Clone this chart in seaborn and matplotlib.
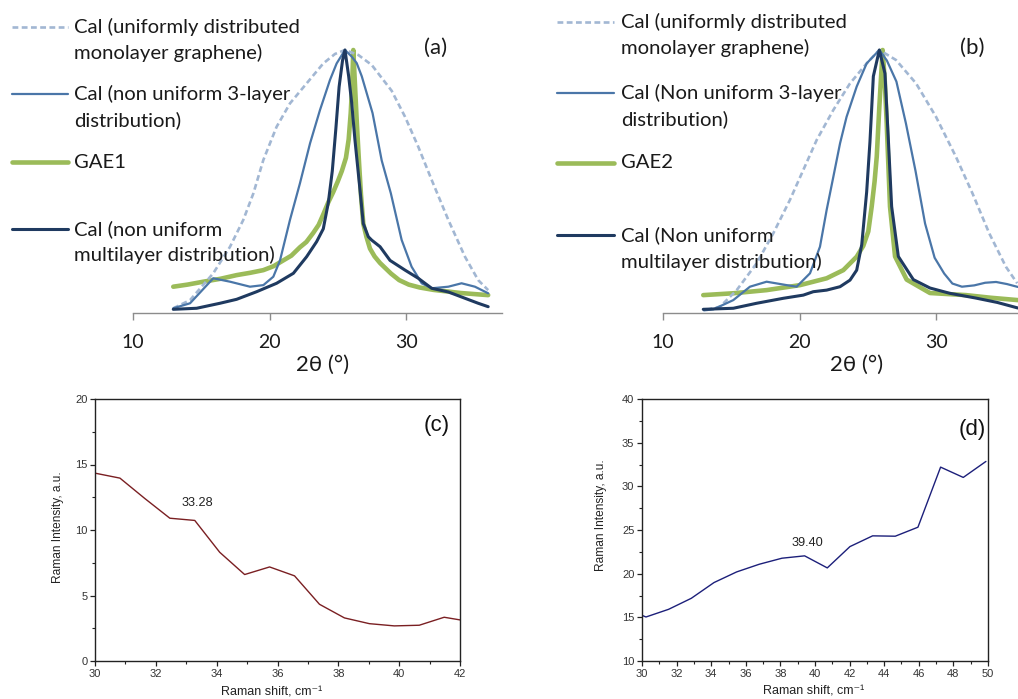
import numpy as np
import pandas as pd
import matplotlib
matplotlib.use("Agg")
import matplotlib.pyplot as plt
from matplotlib.lines import Line2D
from matplotlib.ticker import MultipleLocator
import seaborn as sns

# ---------------- data ----------------
# panel (a): XRD, normalised intensity vs 2theta
a_mono_x = [12.95, 14.18, 15.88, 17.11, 18.08, 18.82, 19.55, 20.52, 21.50, 22.72, 23.94, 24.80, 25.53,
            26.51, 27.49, 28.95, 29.93, 30.90, 31.88, 33.10, 34.32, 35.29, 36.02]
a_mono_y = [0.018, 0.049, 0.151, 0.252, 0.354, 0.455, 0.582, 0.708, 0.797, 0.873, 0.949, 0.985, 1.0,
            0.981, 0.943, 0.845, 0.746, 0.632, 0.506, 0.354, 0.214, 0.125, 0.087]

a_tri_x = [12.95, 14.18, 15.88, 17.11, 18.57, 19.55, 20.28, 20.77, 21.50, 22.23, 22.97, 23.70, 24.43,
           24.92, 25.53, 26.02, 26.39, 26.76, 27.55, 28.22, 28.89, 29.68, 30.41, 31.15, 31.88, 33.10,
           34.07, 35.05, 36.02]
a_tri_y = [0.018, 0.037, 0.132, 0.119, 0.100, 0.106, 0.138, 0.200, 0.354, 0.493, 0.645, 0.772, 0.886,
           0.949, 1.0, 0.975, 0.950, 0.900, 0.760, 0.580, 0.455, 0.278, 0.176, 0.113, 0.094, 0.100,
           0.113, 0.100, 0.075]

a_multi_x = [12.95, 14.66, 16.37, 17.59, 19.06, 20.52, 21.75, 22.72, 23.45, 23.94, 24.31, 24.60, 24.86,
             25.10, 25.35, 25.53, 25.80, 26.02, 26.26, 26.63, 26.87, 27.24, 27.49, 28.10, 28.83, 29.93,
             30.90, 31.88, 33.10, 34.32, 35.29, 36.02]
a_multi_y = [0.014, 0.018, 0.037, 0.052, 0.081, 0.113, 0.151, 0.214, 0.271, 0.320, 0.420, 0.540, 0.700,
             0.860, 0.960, 1.0, 0.900, 0.800, 0.658, 0.468, 0.340, 0.290, 0.277, 0.252, 0.200, 0.163,
             0.132, 0.094, 0.080, 0.056, 0.037, 0.024]

a_gae_x = [12.95, 14.0, 15.15, 16.4, 17.59, 18.6, 19.55, 20.3, 21.01, 21.6, 22.23, 22.7, 23.21, 23.6,
           23.94, 24.3, 24.67, 25.0, 25.3, 25.6, 25.8, 25.95, 26.05, 26.14, 26.25, 26.4, 26.55, 26.7,
           26.87, 27.1, 27.36, 27.7, 28.1, 28.5, 28.9, 29.5, 30.2, 31.0, 32.0, 33.0, 34.0, 35.0, 36.02]
a_gae_y = [0.100, 0.108, 0.119, 0.130, 0.144, 0.153, 0.163, 0.178, 0.200, 0.218, 0.250, 0.270, 0.305,
           0.335, 0.375, 0.420, 0.460, 0.500, 0.540, 0.590, 0.660, 0.760, 0.860, 1.0, 0.880, 0.720,
           0.580, 0.450, 0.340, 0.290, 0.245, 0.215, 0.190, 0.170, 0.150, 0.125, 0.108, 0.097, 0.088,
           0.082, 0.076, 0.072, 0.068]

# panel (b)
b_mono_x = [13.2, 14.18, 15.40, 16.86, 18.08, 19.30, 20.28, 21.26, 22.48, 23.70, 24.92, 25.85, 27.07,
            28.54, 30.00, 31.46, 32.68, 33.90, 35.12, 35.95]
b_mono_y = [0.012, 0.024, 0.087, 0.189, 0.303, 0.430, 0.544, 0.658, 0.772, 0.873, 0.949, 1.0, 0.962,
            0.873, 0.746, 0.594, 0.454, 0.303, 0.176, 0.113]

b_tri_x = [13.0, 13.69, 15.15, 16.37, 17.59, 19.06, 19.79, 20.77, 21.50, 21.99, 22.48, 22.97, 23.45,
           24.19, 24.92, 25.85, 26.40, 27.10, 27.80, 28.50, 29.20, 29.90, 30.60, 31.20, 31.90, 32.80,
           33.60, 34.40, 35.20, 36.0]
b_tri_y = [0.010, 0.014, 0.049, 0.100, 0.119, 0.106, 0.100, 0.151, 0.252, 0.392, 0.518, 0.645, 0.746,
           0.861, 0.949, 1.0, 0.960, 0.880, 0.720, 0.540, 0.340, 0.210, 0.150, 0.112, 0.100, 0.105,
           0.115, 0.118, 0.110, 0.099]

b_multi_x = [12.95, 15.15, 16.86, 18.82, 20.28, 21.01, 21.99, 22.97, 23.70, 24.19, 24.56, 24.92, 25.16,
             25.41, 25.85, 26.26, 26.51, 26.75, 27.24, 28.34, 29.56, 31.0, 32.9, 34.5, 36.0]
b_multi_y = [0.014, 0.018, 0.037, 0.056, 0.068, 0.081, 0.087, 0.100, 0.125, 0.163, 0.260, 0.460, 0.650,
             0.900, 1.0, 0.911, 0.658, 0.405, 0.215, 0.127, 0.095, 0.075, 0.057, 0.040, 0.019]

b_gae_x = [12.95, 15.15, 17.59, 20.04, 21.99, 23.21, 24.19, 24.67, 25.04, 25.29, 25.50, 25.66, 25.85,
           26.09, 26.25, 26.39, 26.63, 27.0, 27.85, 29.56, 32.2, 34.0, 36.0]
b_gae_y = [0.068, 0.075, 0.087, 0.106, 0.132, 0.163, 0.214, 0.255, 0.310, 0.405, 0.500, 0.595, 0.785,
           1.0, 0.880, 0.720, 0.405, 0.215, 0.127, 0.076, 0.068, 0.058, 0.049]

# panel (c): Raman
c_x = [30.00, 30.82, 31.64, 32.46, 33.28, 34.10, 34.92, 35.74, 36.56, 37.38, 38.20, 39.02, 39.84,
       40.66, 41.48, 42.30]
c_y = [14.34, 13.96, 12.40, 10.90, 10.73, 8.30, 6.60, 7.18, 6.50, 4.33, 3.29, 2.85, 2.68, 2.73, 3.34, 3.02]

# panel (d): Raman
d_x = [28.92, 30.23, 31.54, 32.85, 34.16, 35.47, 36.78, 38.09, 39.40, 40.71, 42.02, 43.33, 44.64,
       45.95, 47.26, 48.57, 49.88]
d_y = [16.10, 15.04, 15.92, 17.18, 18.98, 20.20, 21.08, 21.77, 22.04, 20.66, 23.10, 24.33, 24.29,
       25.32, 32.20, 31.02, 32.85]

legend_a = [["Cal (uniformly distributed", "monolayer graphene)"],
            ["Cal (non uniform 3-layer", "distribution)"],
            ["GAE1"],
            ["Cal (non uniform", "multilayer distribution)"]]
legend_b = [["Cal (uniformly distributed", "monolayer graphene)"],
            ["Cal (Non uniform 3-layer", "distribution)"],
            ["GAE2"],
            ["Cal (Non uniform", "multilayer distribution)"]]
top_ticks = [10, 20, 30]

# ---------------- style ----------------
sns.set_theme(style="white")
plt.rcParams['font.family'] = ['Lato', 'DejaVu Sans']

C_MONO = '#A2B7D3'
C_TRI = '#4A76A8'
C_MULTI = '#1F3A60'
C_GAE = '#9BBB59'
TXT = '#1a1a1a'
DASH = (0, (2.2, 1.3))

W, H = 1018, 699
fig = plt.figure(figsize=(W / 100, H / 100), dpi=100)


def fx(px):
    return px / W


def fy(py):
    return 1 - py / H


def top_panel(left_px, xmax, series, legend, leg_x, leg_rows, panel_lbl, lbl_pos, xlabel_x):
    width = (xmax - 10) * 13.65
    ax = fig.add_axes([fx(left_px), fy(313), width / W, 263 * 1.05 / H])
    mono, tri, gae, multi = series
    sns.lineplot(x=gae[0], y=gae[1], ax=ax, color=C_GAE, lw=3.3, sort=False, estimator=None, zorder=2)
    sns.lineplot(x=mono[0], y=mono[1], ax=ax, color=C_MONO, lw=1.9, linestyle=DASH,
                 sort=False, estimator=None, zorder=3)
    sns.lineplot(x=tri[0], y=tri[1], ax=ax, color=C_TRI, lw=1.6, sort=False, estimator=None, zorder=4)
    sns.lineplot(x=multi[0], y=multi[1], ax=ax, color=C_MULTI, lw=2.2, sort=False, estimator=None, zorder=5)
    for ln in ax.get_lines():
        ln.set_clip_on(False)
    ax.set_xlim(10, xmax)
    ax.set_ylim(0, 1.05)
    for s in ['top', 'right', 'left']:
        ax.spines[s].set_visible(False)
    ax.spines['bottom'].set_color('#8c8c8c')
    ax.spines['bottom'].set_linewidth(1.0)
    ax.set_yticks([])
    ax.set_xticks(top_ticks)
    ax.tick_params(axis='x', direction='out', length=5, width=1, color='#8c8c8c', pad=10,
                   labelsize=14, labelcolor=TXT, bottom=True)
    ax.set_xlabel('2θ (°)', fontsize=16, color=TXT)
    ax.xaxis.label.set_va('center')
    ax.xaxis.set_label_coords(xlabel_x, -52 / (263 * 1.05))
    ax.set_ylabel('')
    ax.patch.set_alpha(0)

    styles = [dict(color=C_MONO, lw=1.9, linestyle=DASH),
              dict(color=C_TRI, lw=1.6),
              dict(color=C_GAE, lw=3.3),
              dict(color=C_MULTI, lw=2.2)]
    h0, h1, tx = leg_x
    for st, lines, rows in zip(styles, legend, leg_rows):
        fig.add_artist(Line2D([fx(h0), fx(h1)], [fy(rows[0]), fy(rows[0])],
                              transform=fig.transFigure, **st))
        for line, r in zip(lines, rows):
            fig.text(fx(tx), fy(r), line, fontsize=14.6, color=TXT, ha='left', va='center')
    fig.text(fx(lbl_pos[0]), fy(lbl_pos[1]), panel_lbl, fontsize=16, color=TXT, ha='center', va='center')
    return ax


top_panel(133, 37.0,
          [(a_mono_x, a_mono_y), (a_tri_x, a_tri_y), (a_gae_x, a_gae_y), (a_multi_x, a_multi_y)],
          legend_a, (12, 68, 74), [(27, 53), (94, 120), (162,), (229, 255)],
          '(a)', (436, 48), 0.513)
top_panel(663, 36.0,
          [(b_mono_x, b_mono_y), (b_tri_x, b_tri_y), (b_gae_x, b_gae_y), (b_multi_x, b_multi_y)],
          legend_b, (557, 614, 621), [(22, 48), (93, 119), (163,), (235, 262)],
          '(b)', (972, 48), 0.544)

# ---------------- bottom panels ----------------
BF = ['Liberation Sans', 'DejaVu Sans']


def raman_panel(left_px, right_px, x, y, xlim, ylim, xmaj, ymaj, color, ann, ann_xy, lbl, lbl_px,
                ylab_pos, xlab_pos):
    ax = fig.add_axes([fx(left_px), fy(661), (right_px - left_px) / W, 262 / H])
    sns.lineplot(x=x, y=y, ax=ax, color=color, lw=1.0, sort=False, estimator=None)
    ax.set_xlim(*xlim)
    ax.set_ylim(*ylim)
    ax.xaxis.set_major_locator(MultipleLocator(xmaj))
    ax.xaxis.set_minor_locator(MultipleLocator(xmaj / 2))
    ax.yaxis.set_major_locator(MultipleLocator(ymaj))
    ax.yaxis.set_minor_locator(MultipleLocator(ymaj / 2))
    for s in ax.spines.values():
        s.set_visible(True)
        s.set_color('#222222')
        s.set_linewidth(1.0)
    ax.tick_params(which='major', direction='out', length=3.5, width=0.9, color='#222222',
                   labelsize=8, labelcolor='#333333', pad=2, bottom=True, left=True)
    ax.tick_params(which='minor', direction='out', length=2, width=0.8, color='#222222',
                   bottom=True, left=True)
    for t in ax.get_xticklabels() + ax.get_yticklabels():
        t.set_family(BF)
    ax.set_xlabel('Raman shift, cm⁻¹', fontsize=9, family=BF, color='#222222')
    ax.set_ylabel('Raman Intensity, a.u.', fontsize=8.6, family=BF, color='#222222')
    ax.xaxis.label.set_va('center')
    ax.yaxis.label.set_va('center')
    ax.xaxis.set_label_coords(*xlab_pos)
    ax.yaxis.set_label_coords(*ylab_pos)
    ax.text(ann_xy[0], ann_xy[1], ann, fontsize=9.2, family=BF, color='#222222', ha='center', va='center')
    fig.text(fx(lbl_px[0]), fy(lbl_px[1]), lbl, fontsize=16, family=BF, color='#111111',
             ha='center', va='center')
    return ax


raman_panel(95, 460, c_x, c_y, (30, 42), (0, 20), 2, 5, '#7a1f22', '33.28', (33.35, 12.06),
            '(c)', (437, 426), (-0.101, 0.511), (0.485, -0.122))
raman_panel(642, 988, d_x, d_y, (30, 50), (10, 40), 2, 5, '#1c1f7a', '39.40', (39.54, 23.51),
            '(d)', (972, 429), (-0.118, 0.557), (0.497, -0.118))

fig.savefig('out.png', dpi=100)
